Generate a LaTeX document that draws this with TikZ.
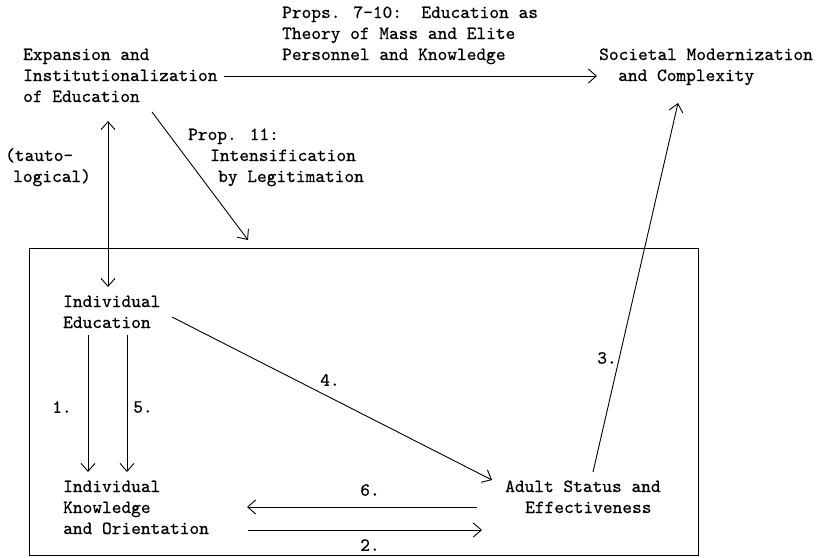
\documentclass[tikz,border=0pt]{standalone}
\usepackage{fontspec}
\newfontfamily\tw{lmmono10-regular.otf}[AutoFakeBold=0.6]
\usetikzlibrary{arrows.meta}
\begin{document}
\begin{tikzpicture}[x=1pt,y=-1pt,
  txt/.style={font=\tw\bfseries\fontsize{18.5}{21}\selectfont, inner sep=0pt, align=left, anchor=base west},
  lbl/.style={font=\tw\bfseries\fontsize{18.5}{21}\selectfont, inner sep=0pt, anchor=center},
  conn/.style={line width=0.9pt, -{Straight Barb[length=8pt,width=14pt,line width=0.9pt]}},
  dconn/.style={line width=0.9pt, {Straight Barb[length=8pt,width=14pt,line width=0.9pt]}-{Straight Barb[length=8pt,width=14pt,line width=0.9pt]}},
]
\useasboundingbox (0,0) rectangle (829,557);
% box
\node (box) [draw, line width=0.9pt, minimum width=669pt, minimum height=307pt, inner sep=0pt, anchor=north west] at (29,248) {};
% texts (anchor = baseline of last line)
\node[txt] (A) at (23,102) {Expansion and\\Institutionalization\\of Education};
\node[txt] (P) at (282,60) {Props. 7-10:\ \ Education as\\Theory of Mass and Elite\\Personnel and Knowledge};
\node[txt] (S) at (599,81) {Societal Modernization\\\hspace*{19pt}and Complexity};
\node[txt] (T) at (5,182) {(tauto-\\\hspace*{8pt}logical)};
\node[txt] (L) at (188,182) {Prop. 11:\\\hspace*{22pt}Intensification\\\hspace*{30pt}by Legitimation};
\node[txt] (IE) at (63,328) {Individual\\Education};
\node[txt] (IK) at (63,534) {Individual\\Knowledge\\and Orientation};
\node[txt] (AS) at (505,513) {Adult Status and\\\hspace*{20pt}Effectiveness};
% connector end points
\coordinate (As) at (224,76);
\coordinate (Se) at (597,76);
\coordinate (Ab) at (108,121);
\coordinate (IEt) at (108,287);
\coordinate (Ad) at (152,112);
\coordinate (boxt) at (248,240);
\coordinate (IEa) at (88,335);
\coordinate (IKa) at (88,472);
\coordinate (IEb) at (127,335);
\coordinate (IKb) at (127,472);
\coordinate (IEr) at (172,317);
\coordinate (ASl) at (492,480);
\coordinate (ASt) at (593,472);
\coordinate (Sb) at (678,103);
\coordinate (ASa) at (477,507);
\coordinate (IKr) at (247,507);
\coordinate (IKs) at (248,530);
\coordinate (ASb) at (482,530);
% connectors
\draw[conn] (As) -- (Se);
\draw[dconn] (Ab) -- (IEt);
\draw[conn] (Ad) -- (boxt);
\draw[conn] (IEa) -- (IKa);
\draw[conn] (IEb) -- (IKb);
\draw[conn] (IEr) -- (ASl);
\draw[conn] (ASt) -- (Sb);
\draw[conn] (ASa) -- (IKr);
\draw[conn] (IKs) -- (ASb);
% labels
\node[lbl] (n1) at (62,407) {1.};
\node[lbl] (n5) at (143,407) {5.};
\node[lbl] (n4) at (330,380) {4.};
\node[lbl] (n6) at (370,490) {6.};
\node[lbl] (n2) at (370,545) {2.};
\node[lbl] (n3) at (607,358) {3.};
\end{tikzpicture}
\end{document}
